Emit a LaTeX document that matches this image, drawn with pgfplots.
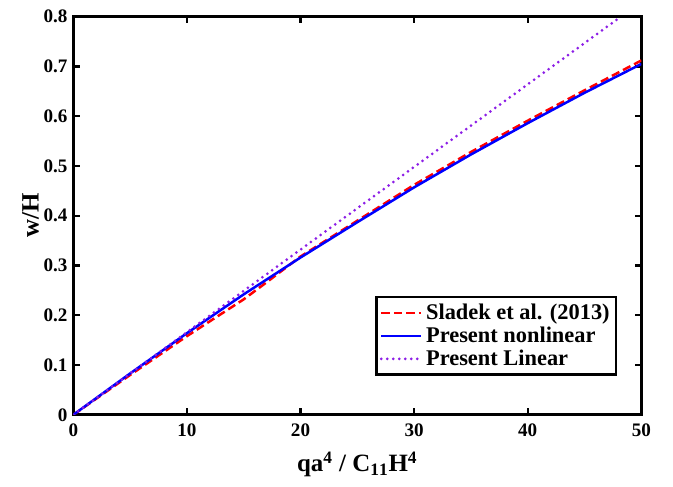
\documentclass[border=0pt]{standalone}
\usepackage{pgfplots}
\pgfplotsset{compat=1.18}
\usepackage{fontspec}
\setmainfont{Liberation Serif}

\begin{document}
\begin{tikzpicture}[x=1bp,y=1bp]
% frame so the page keeps the reference proportions
\path (-44,-43) rectangle (360,249);
\begin{axis}[
  at={(0,0)}, anchor=origin,
  scale only axis,
  width=341bp, height=239bp,
  xmin=0, xmax=50, ymin=0, ymax=0.8,
  xtick={0,10,...,50},
  ytick={0,0.1,...,0.8},
  yticklabel style={/pgf/number format/fixed, /pgf/number format/precision=1},
  xticklabel style={yshift=-2bp},
  /pgf/number format/assume math mode=true,
  tick align=inside,
  tick style={black, line width=1.4bp},
  major tick length=4bp,
  axis line style={line width=1.6bp},
  ticklabel style={font=\fontsize{11.5}{12}\selectfont\bfseries},
  xlabel={\textbf{qa$^{\mathbf{4}}$ / C$_{\mathbf{11}}$H$^{\mathbf{4}}$}},
  ylabel={\textbf{w/H}},
  label style={font=\fontsize{15}{16}\selectfont\bfseries},
  xlabel style={yshift=-2bp},
  ylabel style={yshift=-4bp},
  legend cell align=left,
  legend style={at={(0.958,0.098)}, anchor=south east,
    draw=black, line width=1.4bp, inner sep=2bp,
    font=\fontsize{13.5}{14}\selectfont\bfseries,
    row sep=-1bp,
    /tikz/every even column/.append style={column sep=1bp}},
  legend image code/.code={\draw[#1] (0bp,0bp) -- (24bp,0bp);},
  clip=true,
]
\addplot[red, line width=1.5bp, dash pattern=on 5bp off 2.5bp] coordinates {
  (0,0) (5,0.080) (10,0.158) (15,0.232) (17,0.266) (20,0.318) (25,0.390)
  (30,0.462) (35,0.528) (40,0.591) (45,0.652) (50,0.712)};
\addlegendentry{Sladek et al. (2013)}
\addplot[blue, line width=1.5bp] coordinates {
  (0,0) (5,0.083) (10,0.164) (15,0.242) (20,0.316) (25,0.387)
  (30,0.457) (35,0.523) (40,0.586) (45,0.647) (50,0.705)};
\addlegendentry{Present nonlinear}
\addplot[color={rgb,255:red,140;green,30;blue,230}, line width=1.8bp, line cap=round, dash pattern=on 0bp off 3.6bp] coordinates {
  (0,0) (10,0.166) (20,0.332) (30,0.498) (40,0.664) (48.2,0.8)};
\addlegendentry{Present Linear}
\end{axis}
\end{tikzpicture}
\end{document}
